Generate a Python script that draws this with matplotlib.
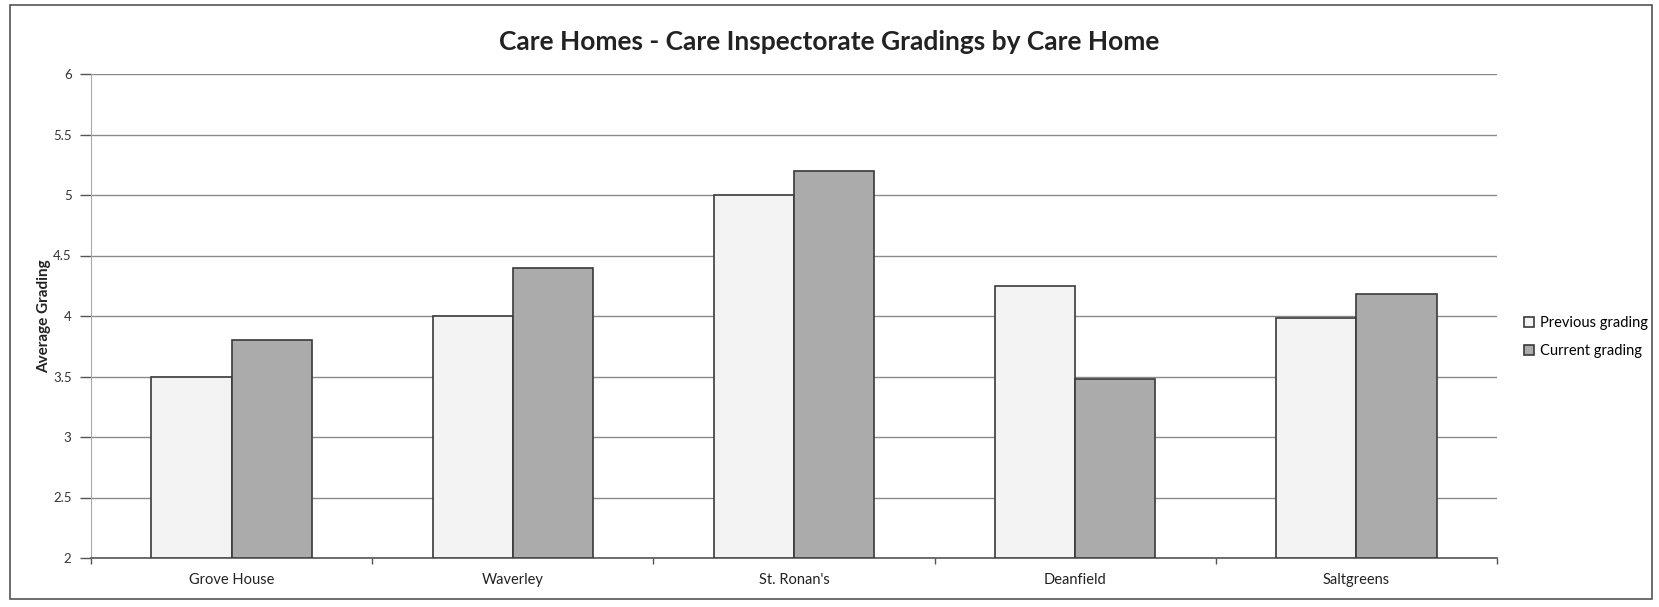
import numpy as np
import matplotlib.pyplot as plt
from matplotlib.patches import Rectangle

# ── data ─────────────────────────────────────────────────────────────
homes = ["Grove House", "Waverley", "St. Ronan's", "Deanfield", "Saltgreens"]
previous = [3.5, 4.0, 5.0, 4.25, 3.98]
current = [3.8, 4.4, 5.2, 3.48, 4.18]
y_ticks = [2, 2.5, 3, 3.5, 4, 4.5, 5, 5.5, 6]
y_tick_labels = ["2", "2.5", "3", "3.5", "4", "4.5", "5", "5.5", "6"]

plt.rcParams['font.family'] = ['Lato', 'DejaVu Sans']

W, H, DPI = 1659, 607, 100
fig = plt.figure(figsize=(W / DPI, H / DPI), dpi=DPI)
ax = fig.add_axes([91 / W, 1 - 558 / H, (1497 - 91) / W, (558 - 74) / H])

x = np.arange(len(homes))
bw = 0.285
edge = '#3a3a3a'
ax.bar(x - bw / 2, np.array(previous) - 2, bw, bottom=2, color='#f3f3f3',
       edgecolor=edge, lw=1.2, label='Previous grading', zorder=3)
ax.bar(x + bw / 2, np.array(current) - 2, bw, bottom=2, color='#ababab',
       edgecolor=edge, lw=1.2, label='Current grading', zorder=3)

ax.set_xlim(-0.5, len(homes) - 0.5)
ax.set_ylim(2, 6)
ax.set_yticks(y_ticks)
ax.set_yticklabels(y_tick_labels, fontsize=9.5, color='#333333')
ax.tick_params(axis='y', length=8, width=1, color='#555555', pad=6)

# category labels centred, tick marks on the boundaries
ax.set_xticks(x)
ax.set_xticklabels(homes, fontsize=10.5, color='#222222')
ax.tick_params(axis='x', length=0, pad=11)
ax.set_xticks(np.arange(-0.5, len(homes)), minor=True)
ax.tick_params(axis='x', which='minor', length=4, width=1, color='#555555')

ax.grid(axis='y', color='#8a8a8a', lw=1, zorder=0)
for s in ('top', 'right'):
    ax.spines[s].set_visible(False)
ax.spines['left'].set_color('#aaaaaa')
ax.spines['left'].set_linewidth(0.8)
ax.spines['bottom'].set_color('#555555')
ax.spines['bottom'].set_linewidth(1.2)

ax.set_ylabel('Average Grading', fontsize=11, fontweight='bold',
              color='#222222')
ax.yaxis.set_label_coords((51 - 91) / (1497 - 91), 0.5)

fig.text(0.5, 1 - 42 / H, 'Care Homes - Care Inspectorate Gradings by Care Home',
         ha='center', va='center', fontsize=19, fontweight='bold',
         color='#222222')

fig.legend(loc='center left', bbox_to_anchor=(1518 / W, 1 - 337 / H),
           frameon=False, fontsize=10.5, handlelength=0.7, handleheight=0.7,
           handletextpad=0.4, labelspacing=0.95, borderaxespad=0)

# outer chart frame
fig.patches.append(Rectangle((10 / W, 1 - 599 / H), (1652 - 10) / W,
                             (599 - 5) / H, transform=fig.transFigure,
                             fill=False, edgecolor='#555555', lw=1.2))

fig.savefig('out.png', dpi=DPI)
